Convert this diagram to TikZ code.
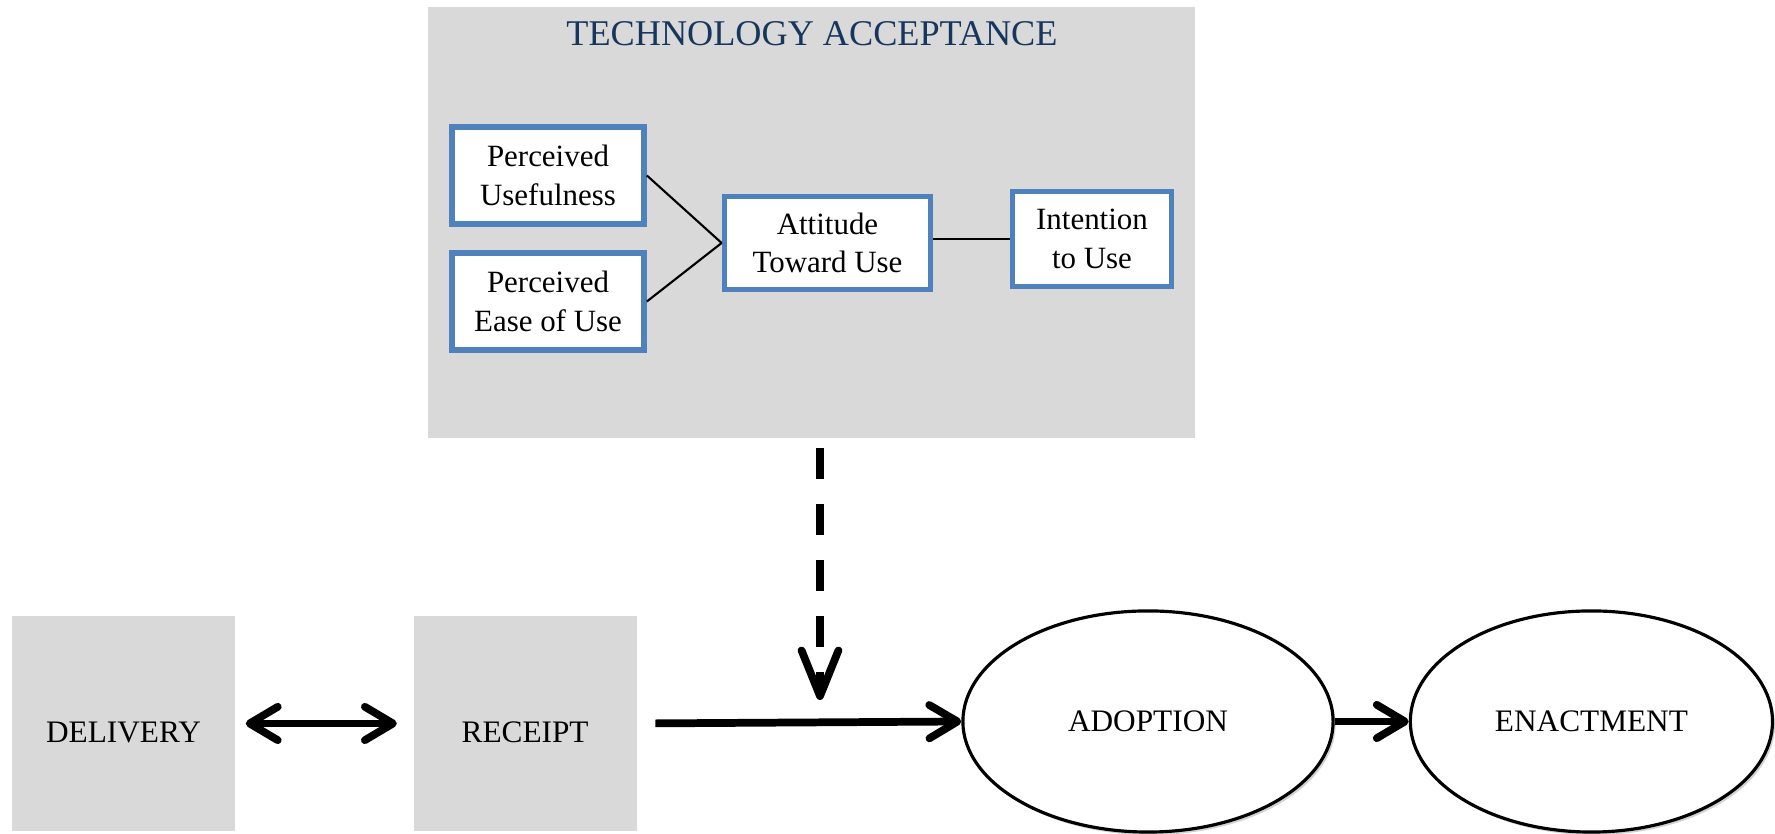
\documentclass[tikz,border=0pt]{standalone}
\usepackage{fontspec}
\setmainfont{Liberation Serif}
\usepackage{tikz}
\usetikzlibrary{arrows.meta,positioning,shapes.geometric,shadows,calc}
\definecolor{TAMgray}{HTML}{D9D9D9}
\definecolor{TAMblue}{HTML}{4F81BD}
\definecolor{TAMnavy}{HTML}{17365D}
\tikzset{
  tam/panel/.style={fill=TAMgray, inner sep=0pt, minimum width=7.67cm, minimum height=4.31cm},
  tam/title/.style={text=TAMnavy, font=\fontsize{10.3}{12}\selectfont, inner sep=0pt},
  tam/construct/.style={draw=TAMblue, line width=1.6pt, fill=white, align=center, inner sep=0pt,
    font=\fontsize{8.8}{11}\selectfont},
  tam/line/.style={line width=0.6pt},
  flow/stage/.style={fill=TAMgray, inner sep=0pt, minimum width=2.23cm, minimum height=2.15cm,
    text height=10.9pt, text depth=0pt, font=\fontsize{8.9}{11}\selectfont},
  flow/outcome/.style={draw, ellipse, line width=0.9pt, fill=white, inner sep=0pt, minimum height=2.21cm,
    font=\fontsize{8.9}{11}\selectfont,
    drop shadow={shadow xshift=0.025cm, shadow yshift=-0.03cm, fill=black!35}},
  flow/arr/.style={line width=2.2pt, -{Straight Barb[round, length=8pt, width=9.5pt]}},
  flow/both/.style={line width=2.2pt, {Straight Barb[round, length=8pt, width=9.5pt]}-{Straight Barb[round, length=8pt, width=9.5pt]}},
  flow/moderates/.style={line width=2.2pt, dash pattern=on 0.31cm off 0.25cm,
    -{Straight Barb[round, length=13pt, width=10.5pt]}}
}

\begin{document}
\begin{tikzpicture}[x=0.01cm, y=0.01cm]
  \useasboundingbox (0,0) rectangle (1775,834);

  % technology acceptance panel
  \node[tam/panel] (tam) at (811.5,611.5) {};
  \node[tam/title] (tamtitle) at (812,800) {TECHNOLOGY ACCEPTANCE};

  \node[tam/construct, minimum width=1.92cm, minimum height=0.97cm] (pu) at (548,658.5) {Perceived\\Usefulness};
  \node[tam/construct, minimum width=1.92cm, minimum height=0.97cm] (peou) at (548,532.5) {Perceived\\Ease of Use};
  \node[tam/construct, minimum width=2.06cm, minimum height=0.93cm] (att) at (827.5,591) {Attitude\\Toward Use};
  \node[tam/construct, minimum width=1.59cm, minimum height=0.95cm] (itu) at (1092,595) {Intention\\to Use};

  \draw[tam/line] (pu.east) -- (att.west);
  \draw[tam/line] (peou.east) -- (att.west);
  \draw[tam/line] (att.east |- itu.west) -- (itu.west);

  % diffusion stages
  \node[flow/stage] (delivery) at (123.5,110.5) {DELIVERY};
  \node[flow/stage, right=1.77cm of delivery] (receipt) {RECEIPT};
  \node[flow/outcome, minimum width=3.70cm] (adoption) at (1148,112.5) {ADOPTION};
  \node[flow/outcome, minimum width=3.62cm, right=0.74cm of adoption] (enactment) {ENACTMENT};

  \coordinate (hit) at (820,134);

  \draw[flow/both, shorten <=0.1cm, shorten >=0.16cm] (delivery.east) -- (receipt.west);
  \draw[flow/arr, shorten <=0.18cm] (receipt.east) -- (adoption.west);
  \draw[flow/arr] (adoption.east) -- (enactment.west);
  \draw[flow/moderates, shorten <=0.09cm] (hit |- tam.south) -- (hit);
\end{tikzpicture}
\end{document}
